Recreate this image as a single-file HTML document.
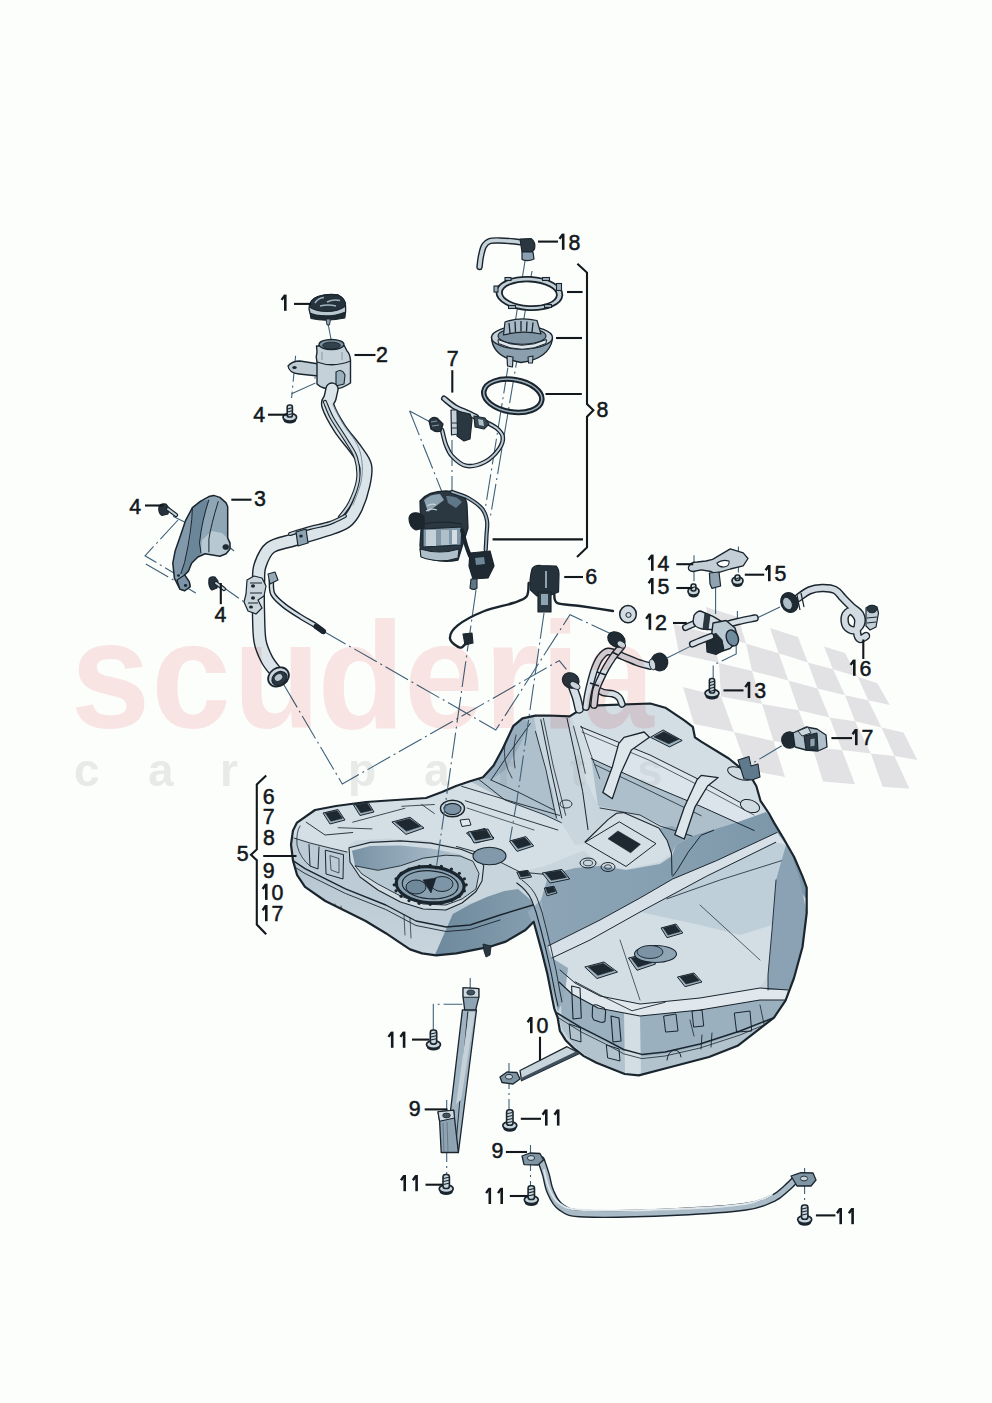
<!DOCTYPE html>
<html><head><meta charset="utf-8"><style>
html,body{margin:0;padding:0;background:#fcfefc;}
body{width:992px;height:1403px;overflow:hidden;}
svg{display:block;}
.lb{font-family:"Liberation Sans",sans-serif;font-size:23px;fill:#12181c;stroke:#12181c;stroke-width:0.55px;}
.ln{stroke:#12181c;stroke-width:2.1;fill:none;}
.dd{stroke:#3f6178;stroke-width:1.1;fill:none;stroke-dasharray:26 4 2 4;}
.ol{stroke:#16212a;stroke-width:1.3;stroke-linejoin:round;}
.th{stroke:#1b2730;stroke-width:0.8;fill:none;}
</style></head><body>
<svg width="992" height="1403" viewBox="0 0 992 1403">
<rect width="992" height="1403" fill="#fcfefc"/>
<g id="flag" fill="#e2e2e5">
<polygon points="706,607 738,617 746,643.5 711,634"/>
<polygon points="770,628 798,637 807.8,662.4 778.7,653.3"/>
<polygon points="824,646.6 845,653 857.7,676.7 833,669.3"/>
<polygon points="673.5,624 711,634 719,663 679,654"/>
<polygon points="746,643.5 778.7,653.3 788.4,680.5 752,671"/>
<polygon points="807.8,662.4 833,669.3 845,695.3 817.5,688.4"/>
<polygon points="857.7,676.7 877.3,683.2 889.8,704.9 868.2,700.3"/>
<polygon points="719,663 752,671 762,704 721,696.6"/>
<polygon points="788.4,680.5 817.5,688.4 829.5,717.4 798.7,710.2"/>
<polygon points="845,695.3 868.2,700.3 881.5,727.5 855,721.3"/>
<polygon points="683,687 721,696.6 734,732 694,724"/>
<polygon points="762,704 798.7,710.2 812.5,747.5 773.5,741"/>
<polygon points="829.5,717.4 855,721.3 870.8,753.4 842,750"/>
<polygon points="881.5,727.5 903.5,732.4 917.3,760 894.4,756"/>
<polygon points="734,732 773.5,741 785,777 747.7,770"/>
<polygon points="812.5,747.5 842,750 855,784.2 823,781.5"/>
<polygon points="870.8,753.4 894.4,756 909.4,788.8 882.6,786.8"/>
</g>
<g id="tank">
<defs><path id="sil" d="M297,822.6 L315,810 L336,806 L366,802 L396,800 L426,798 L442,792 L456,786 L470,781.3 L483,777.3 L493.6,765.5 L502.8,748.5 L513.2,726.2 L522.4,718.3 L535.5,715.7 L548.6,715.5 L569.6,716.4 L574.8,713.1 L591.2,705.6 L650.4,703.5 L665.3,707.7 L684.3,720.4 L692.8,726.8 L694.9,737.3 L701.2,741.6 L728.8,758.5 L739.3,767 L750,775.4 L756.3,786 L760.5,800.8 L769,813.5 L774,822.6 L782.7,837 L794,856.7 L802.5,876.4 L806.7,887.7 L806.7,913 L802.5,947 L794,978 L785.5,1000.6 L774,1017.6 L737.6,1045.8 L709,1057 L667,1068 L638.8,1075.4 L624.7,1074 L596.4,1062.7 L583.8,1056.1 L573.6,1048.1 L565.6,1040.2 L559.9,1031 L557.6,1017.4 L554.2,1008.3 L551.9,996.9 L547.4,974.1 L541.7,951.3 L537.1,934.2 L533.7,921.7 L525.5,930 L505.8,941.6 L489,947 L476.5,949.4 L456.4,953.4 L436.2,955.4 L422,953.4 L410,949.4 L398,941.3 L385.8,933.2 L365.6,921 L345.5,911 L325.3,901 L305,886.9 L297,874.8 L293,860.6 L291,844.5 L293,830.4 Z"/><clipPath id="cp"><use href="#sil"/></clipPath>
<linearGradient id="gl" x1="0" y1="0" x2="0" y2="1"><stop offset="0" stop-color="#b2c3ce"/><stop offset="1" stop-color="#cad6de"/></linearGradient>
<linearGradient id="gd" x1="0" y1="0" x2="1" y2="0"><stop offset="0" stop-color="#6d889c"/><stop offset="1" stop-color="#88a0b1"/></linearGradient>
<linearGradient id="gs" x1="0" y1="0" x2="1" y2="0"><stop offset="0" stop-color="#8ca4b5"/><stop offset="0.5" stop-color="#859fb1"/><stop offset="1" stop-color="#7b95a8"/></linearGradient>
<linearGradient id="gw" x1="0" y1="0" x2="1" y2="0"><stop offset="0" stop-color="#7892a5"/><stop offset="0.6" stop-color="#9db2c1"/><stop offset="1" stop-color="#bdcdd7"/></linearGradient>
</defs>
<use href="#sil" fill="#c8d5dd"/>
<g clip-path="url(#cp)">
<path d="M285,850 L305,868.7 L345.5,888.9 L385.8,905 L416,921 L446.3,927 L470,925 L500,915 L540,905 L545,960 L430,962 L285,900 Z" fill="url(#gl)"/>
<path d="M285,836 L294,838 L310,843 L330,848 L347,852 L352,866 L366,880 L386,893 L416,905 L446,909 L479,901 L500,897 L470,925 L446.3,927 L416,921 L385.8,905 L345.5,888.9 L305,868.7 L285,858 Z" fill="#bccbd5"/>
<path d="M285,836 L294,838 L310,843 L330,848 L347,852 L349.5,844.5 L355.6,840.5 L385.8,838.5 L426,840.5 L456.4,846.5 L478.5,852.6 L500,862 L520,872 L545,866 L585,850 L585,830 L545,815 L505,800 L477,778 L285,800 Z" fill="#d4dee5"/>
<path d="M349,847.7 L370.2,842.4 L400.5,840.9 L430.7,843.1 L461,849.2 L476,855.2 L483.7,865.8 L482,881 L476,891.5 L462,903 L445.8,910 L423.2,909 L400.5,902 L377.8,890 L360,877 L350,862 Z" fill="#cfdae1" stroke="#1a252e" stroke-width="1.1" stroke-linejoin="round"/>
<path d="M352,850.7 L370.2,846 L400.5,845.4 L430.7,848.4 L461,854.5 L473,861.3 L460,856 L445.8,855.2 L423.2,858.2 L400.5,865.8 L377.8,870.3 L355,865.8 Z" fill="url(#gw)"/>
<path d="M355,865.8 L377.8,870.3 L400.5,865.8 L423.2,858.2 L445.8,855.2 L460,856 L473,861.3 L479,873.4 L476,889 L462,899 L445.8,905 L423.2,904 L400.5,896 L377.8,884 L362,874 Z" fill="#b7c8d2" stroke="#1a252e" stroke-width="0.9" stroke-linejoin="round"/>
<path d="M452.8,914 L470,904.5 L487.3,896.8 L504.5,891 L518,889 L531.3,900.6 L537,916 L541,930 L548,965 L430,965 L437.5,949 Z" fill="url(#gd)"/>
<path d="M470,781.3 L483,777.3 L493.6,765.5 L502.8,748.5 L513.2,726.2 L522.4,718.3 L535.5,715.7 L540.8,719.7 L548,760 L556.5,818 L561.4,822.7 L545,815 L505,800 Z" fill="#aec0cc"/>
<path d="M502.8,748.5 L513.2,726.2 L522.4,718.3 L530.3,723.6 L520,745 L505,770 L491,780 L483,777.3 L493.6,765.5 Z" fill="#98aebe"/>
<path d="M534,716.8 L551,715.4 L570,711 L578,740 L586,780 L595,820 L598,842 L575,845 L561.4,822.7 L556,800 L545,770 L537,735 Z" fill="#c9d6de"/>
<path d="M570,711 L591.2,705.6 L650.4,703.5 L665.3,707.7 L684.3,720.4 L692.8,726.8 L694.9,737.3 L701.2,741.6 L728.8,758.5 L739.3,767 L750,775.4 L756.3,786 L760.5,800.8 L769,813.5 L770,812 L738,822 L692,836 L672,830 L640,815 L598,806 L586,780 L578,740 Z" fill="#d3dde4"/>
<path d="M591.2,758.5 L650,785 L700,806 L754.2,830.5 L770,812 L738,822 L692,836 L672,830 L640,815 L598,806 Z" fill="#adbfcb"/>
<path d="M580.6,726.8 L650,755 L700,780 L756.3,811.4 L760,815 L754.2,830.5 L700,806 L650,785 L591.2,758.5 Z" fill="#dbe4ea"/>
<path d="M541,900 L548.5,874.7 L575,868 L600,866 L626,870 L660,864 L672,856 L676,845 L692,836 L738,822 L766,812 L774,822.6 L782.7,837 L794,856.7 L802.5,876.4 L806.7,887.7 L810,905 L800,890 L790,850 L777,832.5 L758.8,841 L716.4,860.7 L672.7,879 L640,898 L600,920 L570,935 L548,946 Z" fill="url(#gs)"/>
<path d="M658.8,828 L672,826 L692,836 L676,845 L671.5,853.5 L667.3,840.8 Z" fill="#8ea6b6"/>
<path d="M585,842 L608,819.6 L616.5,813.3 L623.5,812.6 L658.8,828 L667.3,840.8 L671.5,853.5 L660,862 L626.3,869 L600,864 L585,852 Z" fill="#d4dee5"/>
<path d="M548,946 L570,935 L600,920 L640,898 L672.7,879 L716.4,860.7 L758.8,841 L777,832.5 L786,845 L775.7,842.3 L706.6,876.2 L640,912 L590,940 L560,955 L552,958 Z" fill="#d6e0e6"/>
<path d="M552,958 L590,940 L640,912 L706.6,876.2 L775.7,842.3 L786,845 L784,861 L776,880 L772,930 L768,975 L760,988 L700,998 L640,1004 L600,996 L575,983 L560,970 Z" fill="#d3dde4"/>
<path d="M640,912 L706.6,876.2 L775.7,842.3 L786,845 L784,861 L776,880 L772,925 L740,935 L700,925 Z" fill="#bfcfd9"/>
<path d="M786,845 L790,850 L800,880 L806.7,913 L802.5,947 L794,978 L788,990 L768,990 L768,975 L772,930 L776,880 Z" fill="#8aa2b3"/>
<path d="M560,970 L575,983 L600,996 L640,1004 L700,998 L760,988 L768,990 L788,990 L785,1000 L760,1000 L700,1010 L640,1016 L598,1008 L572,994 L559,982 Z" fill="#e0e8ed"/>
<path d="M559,982 L572,994 L598,1008 L640,1016 L700,1010 L760,1000 L785,1000 L774,1017.6 L737.6,1045.8 L709,1057 L667,1068 L638.8,1075.4 L624.7,1074 L596.4,1062.7 L574,1045.8 L562.6,1028.9 L559.8,989 Z" fill="#9ab0bf"/>
<path d="M557,1015 L581.3,1030 L605.5,1042 L623.6,1051.5 L641.8,1056.4 L665,1054 L700,1046 L740,1033 L774,1019 L737.6,1045.8 L709,1057 L667,1068 L638.8,1075.4 L624.7,1074 L596.4,1062.7 L574,1045.8 L562.6,1028.9 Z" fill="#b3c3ce"/>
<path d="M624,1012 L640,1016 L641,1075 L625,1073 Z" fill="#d3dde4"/>
<path d="M528,912 L541,900 L548,946 L552,958 L568,968 L566,985 L563,1000 L558,1012 L548,975 L540,945 Z" fill="#93aaba"/>
<path d="M293,860.6 L305,868.7 L345.5,888.9 L385.8,905 L416,921 L446.3,927 L470,925 L500,915 L533,905" fill="none" stroke="#1a252e" stroke-width="1.4" stroke-linejoin="round" stroke-linecap="round"/>
<path d="M293,866 L305,873.5 L345.5,893.5 L385.8,909.5 L416,925.5 L446.3,931.5 L470,929.5 L500,920" fill="none" stroke="#1a252e" stroke-width="0.9" stroke-linejoin="round" stroke-linecap="round"/>
<path d="M306.2,822.2 L325,835 L352.7,832.5" fill="none" stroke="#1a252e" stroke-width="0.9" stroke-linejoin="round" stroke-linecap="round"/>
<path d="M338.2,827.7 L372,828.9" fill="none" stroke="#1a252e" stroke-width="0.8" stroke-linejoin="round" stroke-linecap="round"/>
<path d="M352.7,822.2 L404.8,808.3" fill="none" stroke="#1a252e" stroke-width="0.8" stroke-linejoin="round" stroke-linecap="round"/>
<path d="M294,838 L310,843 L330,848 L347,852" fill="none" stroke="#1a252e" stroke-width="0.9" stroke-linejoin="round" stroke-linecap="round"/>
<path d="M300,826 Q296,832 297,845 Q300,858 310,866" fill="none" stroke="#1a252e" stroke-width="0.8" stroke-linejoin="round" stroke-linecap="round"/>
<path d="M530.3,723.6 L510,752 L491,780" fill="none" stroke="#1a252e" stroke-width="0.9" stroke-linejoin="round" stroke-linecap="round"/>
<path d="M535.5,731.5 L546,770 L553.9,807.5 L556.5,818" fill="none" stroke="#1a252e" stroke-width="0.9" stroke-linejoin="round" stroke-linecap="round"/>
<path d="M540.8,719.7 L550,765 L561.7,818" fill="none" stroke="#1a252e" stroke-width="1" stroke-linejoin="round" stroke-linecap="round"/>
<path d="M543.4,718.4 L553,765 L565.7,815.3" fill="none" stroke="#1a252e" stroke-width="0.8" stroke-linejoin="round" stroke-linecap="round"/>
<path d="M567,718.4 L575,755 L582.7,791.7 L588,829.7" fill="none" stroke="#1a252e" stroke-width="1" stroke-linejoin="round" stroke-linecap="round"/>
<path d="M573.5,726.2 L580,750 L585.3,773.4" fill="none" stroke="#1a252e" stroke-width="0.8" stroke-linejoin="round" stroke-linecap="round"/>
<path d="M581.4,726.2 L590,752 L599.7,778.6" fill="none" stroke="#1a252e" stroke-width="0.8" stroke-linejoin="round" stroke-linecap="round"/>
<path d="M491,780 L520,793 L553.9,810" fill="none" stroke="#1a252e" stroke-width="0.9" stroke-linejoin="round" stroke-linecap="round"/>
<path d="M461.6,786.3 L510,801 L559.6,815.4" fill="none" stroke="#1a252e" stroke-width="0.9" stroke-linejoin="round" stroke-linecap="round"/>
<path d="M465.3,800.8 L510,815 L557.8,830" fill="none" stroke="#1a252e" stroke-width="0.9" stroke-linejoin="round" stroke-linecap="round"/>
<path d="M467,808 L534,830" fill="none" stroke="#1a252e" stroke-width="0.7" stroke-linejoin="round" stroke-linecap="round"/>
<path d="M401.8,806.3 L434.4,804.5 M421.7,804.5 L434.4,813.5" fill="none" stroke="#1a252e" stroke-width="0.8" stroke-linejoin="round" stroke-linecap="round"/>
<path d="M508,732 Q503,745 505,760 Q508,772 512,778 M516,735 Q512,750 515,768" fill="none" stroke="#1a252e" stroke-width="0.8" stroke-linejoin="round" stroke-linecap="round"/>
<path d="M477,778 L505,800 L545,815 L561.4,822.7" fill="none" stroke="#1a252e" stroke-width="0.9" stroke-linejoin="round" stroke-linecap="round"/>
<path d="M456.4,846.5 L478.5,852.6 L500,862 L520,872 L548.5,874.7" fill="none" stroke="#1a252e" stroke-width="0.9" stroke-linejoin="round" stroke-linecap="round"/>
<path d="M580.6,726.8 L650,755 L700,780 L756.3,811.4" fill="none" stroke="#1a252e" stroke-width="1" stroke-linejoin="round" stroke-linecap="round"/>
<path d="M582,732 L650,760.5 L700,786 L754,815" fill="none" stroke="#1a252e" stroke-width="0.7" stroke-linejoin="round" stroke-linecap="round"/>
<path d="M591.2,758.5 L650,785 L700,806 L754.2,830.5" fill="none" stroke="#1a252e" stroke-width="1" stroke-linejoin="round" stroke-linecap="round"/>
<path d="M595.4,764.9 L640,786 L701.2,815.7" fill="none" stroke="#1a252e" stroke-width="0.8" stroke-linejoin="round" stroke-linecap="round"/>
<path d="M600,808 L640,815 L660,826 L692,836" fill="none" stroke="#1a252e" stroke-width="0.9" stroke-linejoin="round" stroke-linecap="round"/>
<path d="M516.8,883 Q527,890 531.6,900 L536,912 L541,930 L546,950 L551,972 L555.5,995 L558,1006" fill="none" stroke="#1a252e" stroke-width="1.1" stroke-linejoin="round" stroke-linecap="round"/>
<path d="M522,880 Q533,888 537,898 L542,912 L546,928 L551,948 L556,970 L560,992 L562,1002" fill="none" stroke="#1a252e" stroke-width="0.9" stroke-linejoin="round" stroke-linecap="round"/>
<path d="M585,842 L608,819.6 L616.5,813.3 L623.5,812.6 L658.8,828 L667.3,840.8 L671.5,853.5" fill="none" stroke="#1a252e" stroke-width="1.1" stroke-linejoin="round" stroke-linecap="round"/>
<path d="M671.5,853.5 L672,875" fill="none" stroke="#1a252e" stroke-width="1" stroke-linejoin="round" stroke-linecap="round"/>
<path d="M585.4,842.2 L619.3,821.8 L656,843.6 L626.3,866.2 Z" fill="none" stroke="#1a252e" stroke-width="1" stroke-linejoin="round" stroke-linecap="round"/>
<path d="M548,946 L570,935 L600,920 L640,898 L672.7,879 L716.4,860.7 L758.8,841 L777,832.5" fill="none" stroke="#1a252e" stroke-width="1" stroke-linejoin="round" stroke-linecap="round"/>
<path d="M552,958 L590,940 L640,912 L706.6,876.2 L775.7,842.3" fill="none" stroke="#1a252e" stroke-width="1" stroke-linejoin="round" stroke-linecap="round"/>
<path d="M667,898.8 L720,880 L781.4,860.7" fill="none" stroke="#1a252e" stroke-width="0.8" stroke-linejoin="round" stroke-linecap="round"/>
<path d="M713.6,830.3 L701,835.3 L688.2,852.2 L677,870.6 L672.7,876.2" fill="none" stroke="#1a252e" stroke-width="1" stroke-linejoin="round" stroke-linecap="round"/>
<path d="M560,970 L575,983 L600,996 L640,1004 L700,998 L760,988 L788,990" fill="none" stroke="#1a252e" stroke-width="1" stroke-linejoin="round" stroke-linecap="round"/>
<path d="M559,982 L572,994 L598,1008 L640,1016 L700,1010 L760,1000 L785,1000" fill="none" stroke="#1a252e" stroke-width="1.2" stroke-linejoin="round" stroke-linecap="round"/>
<path d="M776,880 L772,930 L768,975 L768,990" fill="none" stroke="#1a252e" stroke-width="0.9" stroke-linejoin="round" stroke-linecap="round"/>
<path d="M620,940 Q630,970 640,1000" fill="none" stroke="#1a252e" stroke-width="0.7" stroke-linejoin="round" stroke-linecap="round"/>
<path d="M700,905 L760,960" fill="none" stroke="#1a252e" stroke-width="0.7" stroke-linejoin="round" stroke-linecap="round"/>
<path d="M571.6,986 L580,988 L581.3,1018 L573,1019 Z" fill="none" stroke="#1a252e" stroke-width="1.1" stroke-linejoin="round" stroke-linecap="round"/>
<path d="M592.5,1007 Q593,1004 597,1005 L604,1008 Q606,1010 605.5,1013 L605,1021 Q604,1023 600,1022 L594,1020 Q592,1018 592.3,1015 Z" fill="none" stroke="#1a252e" stroke-width="1.1" stroke-linejoin="round" stroke-linecap="round"/>
<path d="M611,1016 L619,1018 L621,1041 L613,1042 Z" fill="none" stroke="#1a252e" stroke-width="1.1" stroke-linejoin="round" stroke-linecap="round"/>
<path d="M569.5,1024 L580.5,1028 L581,1042 L571,1039 Z" fill="none" stroke="#1a252e" stroke-width="1" stroke-linejoin="round" stroke-linecap="round"/>
<path d="M606.7,1045 L619,1049 L620,1061 L608,1058 Z" fill="none" stroke="#1a252e" stroke-width="1" stroke-linejoin="round" stroke-linecap="round"/>
<path d="M557,1013 L581.3,1027.7 L605.5,1039.8 L623.6,1049.5 L641.8,1054.4 L665,1052 L700,1044 L740,1031 L774,1017.6" fill="none" stroke="#1a252e" stroke-width="1.5" stroke-linejoin="round" stroke-linecap="round"/>
<path d="M558,1017.5 L581.3,1032 L605.5,1044 L623.6,1053.8 L641.8,1058.6 L665,1056 L700,1048 L740,1035 L771,1022" fill="none" stroke="#1a252e" stroke-width="0.8" stroke-linejoin="round" stroke-linecap="round"/>
<path d="M575.2,981.8 L600,995 L632,1010.8 L665,1002.3" fill="none" stroke="#1a252e" stroke-width="0.9" stroke-linejoin="round" stroke-linecap="round"/>
<path d="M664,1016 L676,1014 L678,1031 L666,1032 Z" fill="none" stroke="#1a252e" stroke-width="1" stroke-linejoin="round" stroke-linecap="round"/>
<path d="M692.4,1011 L702,1010 L703.7,1026 L694,1027 Z" fill="none" stroke="#1a252e" stroke-width="1" stroke-linejoin="round" stroke-linecap="round"/>
<path d="M734.7,1013 L750,1011 L751.7,1031 L737,1032 Z" fill="none" stroke="#1a252e" stroke-width="1" stroke-linejoin="round" stroke-linecap="round"/>
<path d="M701,1049 L702,1035 M711,1047 L712,1033" fill="none" stroke="#1a252e" stroke-width="0.9" stroke-linejoin="round" stroke-linecap="round"/>
<path d="M667,1060 Q668,1052 674,1050 Q680,1050 681,1057" fill="none" stroke="#1a252e" stroke-width="1" stroke-linejoin="round" stroke-linecap="round"/>
<path d="M690,1020 L694,1036 M760,1005 L764,1024" fill="none" stroke="#1a252e" stroke-width="0.8" stroke-linejoin="round" stroke-linecap="round"/>
<path d="M309,844.5 L310,866 L318,869 L319,847" fill="none" stroke="#1a252e" stroke-width="1" stroke-linejoin="round" stroke-linecap="round"/>
<path d="M325.3,850.6 L326,874 L343,879 L343.5,855 Z" fill="none" stroke="#1a252e" stroke-width="1" stroke-linejoin="round" stroke-linecap="round"/>
<path d="M330,856 L331,870 L339,873 L339,859 Z" fill="none" stroke="#1a252e" stroke-width="0.7" stroke-linejoin="round" stroke-linecap="round"/>
<path d="M335,904 L337,915 L343,918 L341,906" fill="none" stroke="#1a252e" stroke-width="0.7" stroke-linejoin="round" stroke-linecap="round"/>
<path d="M404,915 L405,935 M410,918 L411,938" fill="none" stroke="#1a252e" stroke-width="0.7" stroke-linejoin="round" stroke-linecap="round"/>
<polygon points="323,813 338,809.5 345,820 330,824" fill="#9fb2bf" stroke="#1a252e" stroke-width="1" stroke-linejoin="round"/>
<polygon points="325.42,813.215 337.12,810.695 342.58,818.255 330.88,821.135" fill="#1e2830" stroke="#1a252e" stroke-width="0.6" stroke-linejoin="round"/>
<polygon points="353.5,805 368,802 374,812 360,815.5" fill="#9fb2bf" stroke="#1a252e" stroke-width="1" stroke-linejoin="round"/>
<polygon points="355.783,805.215 367.092,803.055 371.772,810.255 360.853,812.775" fill="#1e2830" stroke="#1a252e" stroke-width="0.6" stroke-linejoin="round"/>
<polygon points="391.9,822 410,817.3 424,828 406,834.4" fill="#9fb2bf" stroke="#1a252e" stroke-width="1" stroke-linejoin="round"/>
<polygon points="395.436,822.159 409.555,818.775 420.475,826.479 406.435,831.087" fill="#1e2830" stroke="#1a252e" stroke-width="0.6" stroke-linejoin="round"/>
<polygon points="466.5,833 485,828.4 494,838 476,843" fill="#9fb2bf" stroke="#1a252e" stroke-width="1" stroke-linejoin="round"/>
<polygon points="469.553,832.928 483.983,829.616 491.002,836.528 476.962,840.128" fill="#1e2830" stroke="#1a252e" stroke-width="0.6" stroke-linejoin="round"/>
<polygon points="468,832 488,829 493.5,839 474,843" fill="#9fb2bf" stroke="#1a252e" stroke-width="1" stroke-linejoin="round"/>
<polygon points="470.832,832.25 486.433,830.09 490.723,837.29 475.512,840.17" fill="#1e2830" stroke="#1a252e" stroke-width="0.6" stroke-linejoin="round"/>
<polygon points="509.4,841 526,836.6 533.7,846 517,851.4" fill="#9fb2bf" stroke="#1a252e" stroke-width="1" stroke-linejoin="round"/>
<polygon points="512.067,840.97 525.015,837.802 531.022,844.57 517.995,848.458" fill="#1e2830" stroke="#1a252e" stroke-width="0.6" stroke-linejoin="round"/>
<polygon points="608,838.7 617.9,831 640.4,844.3 630.6,852.8" fill="#1e2830" stroke="#1a252e" stroke-width="0.6" stroke-linejoin="round"/>
<polygon points="542.2,873 562,869.4 569.7,879 550,883" fill="#9fb2bf" stroke="#1a252e" stroke-width="1" stroke-linejoin="round"/>
<polygon points="545.231,873.068 560.674,870.476 566.681,877.388 551.314,880.268" fill="#1e2830" stroke="#1a252e" stroke-width="0.6" stroke-linejoin="round"/>
<polygon points="516.8,872 528,870.4 531.6,877 520,879" fill="#9fb2bf" stroke="#1a252e" stroke-width="1" stroke-linejoin="round"/>
<polygon points="518.406,871.928 527.142,870.776 529.95,875.528 520.902,876.968" fill="#1e2830" stroke="#1a252e" stroke-width="0.6" stroke-linejoin="round"/>
<polygon points="544.3,888 554,886.3 557,893 547,895.8" fill="#9fb2bf" stroke="#1a252e" stroke-width="1" stroke-linejoin="round"/>
<polygon points="545.68,887.977 553.246,886.753 555.587,891.577 547.787,893.593" fill="#1e2830" stroke="#1a252e" stroke-width="0.6" stroke-linejoin="round"/>
<polygon points="650.4,737.3 663.1,730 682.2,740.5 669.5,746.9" fill="#9fb2bf" stroke="#1a252e" stroke-width="1" stroke-linejoin="round"/>
<polygon points="653.898,736.885 663.804,731.629 678.702,739.189 668.796,743.797" fill="#1e2830" stroke="#1a252e" stroke-width="0.6" stroke-linejoin="round"/>
<polygon points="584.8,967 604,962 617.5,972 597,978.5" fill="#9fb2bf" stroke="#1a252e" stroke-width="1" stroke-linejoin="round"/>
<polygon points="588.325,967.005 603.302,963.405 613.832,970.605 597.841,975.285" fill="#1e2830" stroke="#1a252e" stroke-width="0.6" stroke-linejoin="round"/>
<polygon points="628.4,958 646,954 655.6,964 637,970.3" fill="#9fb2bf" stroke="#1a252e" stroke-width="1" stroke-linejoin="round"/>
<polygon points="631.337,958.201 645.065,955.321 652.553,962.521 638.045,967.057" fill="#1e2830" stroke="#1a252e" stroke-width="0.6" stroke-linejoin="round"/>
<polygon points="677.4,977 694,973 702,982 685,986.7" fill="#9fb2bf" stroke="#1a252e" stroke-width="1" stroke-linejoin="round"/>
<polygon points="680.084,976.949 693.032,974.069 699.272,980.549 686.012,983.933" fill="#1e2830" stroke="#1a252e" stroke-width="0.6" stroke-linejoin="round"/>
<polygon points="661,928 676,924 682.8,933 667,937.7" fill="#9fb2bf" stroke="#1a252e" stroke-width="1" stroke-linejoin="round"/>
<polygon points="663.354,927.949 675.054,925.069 680.358,931.549 668.034,934.933" fill="#1e2830" stroke="#1a252e" stroke-width="0.6" stroke-linejoin="round"/>
<path d="M460,820 L469,819 L471,825 L462,826.5 Z" fill="#dfe7ec" stroke="#1a252e" stroke-width="1" stroke-linejoin="round"/>
<ellipse cx="452.5" cy="808.5" rx="12" ry="8.2" fill="#c9d5dd" stroke="#1a252e" stroke-width="1.4"/>
<ellipse cx="452.5" cy="809" rx="8.5" ry="5.6" fill="#7b93a4" stroke="#1a252e" stroke-width="1.1"/>
<ellipse cx="489.5" cy="856" rx="16.5" ry="8.8" fill="#8199aa" stroke="#1a252e" stroke-width="1.1"/>
<ellipse cx="655.5" cy="954" rx="21" ry="8.5" fill="#8ea5b5" stroke="#1a252e" stroke-width="1.1"/>
<ellipse cx="650" cy="952" rx="13" ry="6.5" fill="#7b93a4" stroke="#1a252e" stroke-width="0.9"/>
<ellipse cx="588" cy="863" rx="8" ry="5" fill="none" stroke="#1a252e" stroke-width="1"/>
<ellipse cx="588" cy="863" rx="4.5" ry="2.8" fill="none" stroke="#1a252e" stroke-width="0.8"/>
<ellipse cx="608" cy="867" rx="7" ry="4.5" fill="none" stroke="#1a252e" stroke-width="1"/>
<ellipse cx="608" cy="867" rx="3.5" ry="2.2" fill="none" stroke="#1a252e" stroke-width="0.8"/>
<ellipse cx="566" cy="804" rx="6" ry="4" fill="none" stroke="#1a252e" stroke-width="0.9"/>
<ellipse cx="430.2" cy="884.8" rx="34" ry="18" fill="#8aa1b2" stroke="#1a252e" stroke-width="3.2" transform="rotate(4 430.2 884.8)"/>
<ellipse cx="430.2" cy="884.8" rx="28" ry="14" fill="none" stroke="#1a252e" stroke-width="1.2" transform="rotate(4 430.2 884.8)"/>
<circle cx="466.2" cy="884.8" r="1.6" fill="#1a252e"/>
<circle cx="464.4" cy="890.8" r="1.6" fill="#1a252e"/>
<circle cx="459.3" cy="896.3" r="1.6" fill="#1a252e"/>
<circle cx="451.4" cy="900.6" r="1.6" fill="#1a252e"/>
<circle cx="441.3" cy="903.3" r="1.6" fill="#1a252e"/>
<circle cx="430.2" cy="904.3" r="1.6" fill="#1a252e"/>
<circle cx="419.1" cy="903.3" r="1.6" fill="#1a252e"/>
<circle cx="409.0" cy="900.6" r="1.6" fill="#1a252e"/>
<circle cx="401.1" cy="896.3" r="1.6" fill="#1a252e"/>
<circle cx="396.0" cy="890.8" r="1.6" fill="#1a252e"/>
<circle cx="394.2" cy="884.8" r="1.6" fill="#1a252e"/>
<circle cx="396.0" cy="878.8" r="1.6" fill="#1a252e"/>
<circle cx="401.1" cy="873.3" r="1.6" fill="#1a252e"/>
<circle cx="409.0" cy="869.0" r="1.6" fill="#1a252e"/>
<circle cx="419.1" cy="866.3" r="1.6" fill="#1a252e"/>
<circle cx="430.2" cy="865.3" r="1.6" fill="#1a252e"/>
<circle cx="441.3" cy="866.3" r="1.6" fill="#1a252e"/>
<circle cx="451.4" cy="869.0" r="1.6" fill="#1a252e"/>
<circle cx="459.3" cy="873.3" r="1.6" fill="#1a252e"/>
<circle cx="464.4" cy="878.8" r="1.6" fill="#1a252e"/>
<ellipse cx="416" cy="887" rx="10" ry="7" fill="#6f889a" stroke="#1a252e" stroke-width="1"/>
<ellipse cx="442" cy="884" rx="11" ry="7.5" fill="#7d95a6" stroke="#1a252e" stroke-width="1"/>
<path d="M423,880 L431,893 L436,878 Z" fill="#1a252e" stroke="#1a252e" stroke-width="0.6" stroke-linejoin="round"/>
<path d="M624,737.3 L644.1,732 L649.4,737.3 L631.4,750 L620.8,773.3 L612.3,798.7 L602.8,792.4 L612.3,767 L618.7,743.7 Z" fill="#dde6eb" stroke="#1a252e" stroke-width="1.3" stroke-linejoin="round"/>
<path d="M701.2,775.4 L718.2,777.6 L707.6,786 L694.9,807.2 L684.3,839 L674.8,834.7 L684.3,807.2 L697,779.7 Z" fill="#dde6eb" stroke="#1a252e" stroke-width="1.3" stroke-linejoin="round"/>
<ellipse cx="740" cy="773.5" rx="13" ry="5.5" fill="#d0dae1" stroke="#1a252e" stroke-width="1" transform="rotate(20 740 773.5)"/>
<ellipse cx="750" cy="806" rx="10" ry="6" fill="#d0dae1" stroke="#1a252e" stroke-width="1" transform="rotate(20 750 806)"/>
</g>
<use href="#sil" fill="none" stroke="#1a252e" stroke-width="2.2" stroke-linejoin="round"/>
<path d="M738,760 L749,756.5 L751,766 L758,764 L760,777 L752,780 L744,779 Z" fill="#5f7a8c" stroke="#1a252e" stroke-width="1.1" stroke-linejoin="round"/>
<path d="M483,944 L491,946 L490,955 L486,957 L484,951 Z" fill="#2a3640" stroke="#1a252e" stroke-width="0.9" stroke-linejoin="round"/>
</g>
<g id="dash" class="dd">
<polyline points="525,261 485.5,507"/>
<polyline points="532,271 490.5,516"/>
<polyline points="409.6,411 429.3,421.4"/>
<polyline points="409.6,411 442,492"/>
<polyline points="452,440 452,491"/>
<polyline points="476,590 446,800 436,870"/>
<polyline points="544,613 517,800 510,840"/>
<polyline points="323,631 495.8,730 570,614.7 615.8,636"/>
<polyline points="284,685 342.3,784 559.3,660.6 566.4,669.4"/>
<polyline points="667,658 691,646"/>
<polyline points="757,618 780,607"/>
<polyline points="715.6,588 715.6,622"/>
<polyline points="737.4,611 737.4,622"/>
<polyline points="736.2,644 736.2,654 713.2,665 713.2,678"/>
<polyline points="694,555.3 694,586"/>
<polyline points="738.4,546.5 738.4,577"/>
<polyline points="781.7,745.8 750,764.7"/>
<polyline points="433.3,1030 433.3,1004.3 462.4,1004.3"/>
<polyline points="509,1063 509,1109.7"/>
<polyline points="530.5,1145 530.5,1185"/>
<polyline points="446.7,1100 446.7,1174.5"/>
<polyline points="470.2,978 470.2,989.4"/>
<polyline points="804.6,1168 804.6,1203.4"/>
<polyline points="328,323.5 331,339"/>
<polyline points="295.6,355.8 291.6,398"/>
<polyline points="291.6,393.7 315,383.2 315,375"/>
<polyline points="173,516.3 184.5,522"/>
<polyline points="178,520 145,555.8 174.8,573.5"/>
<polyline points="145.8,563.9 195.8,593"/>
<polyline points="217.6,583.2 247.4,604.2"/>
<polyline points="227,545 234,551"/>
</g>
<g id="parts">
<path d="M479.5,267 C479.8,265.2 480.2,259.5 481,256 C481.8,252.5 482.5,248.5 484,246 C485.5,243.5 487.3,241.9 490,241 C492.7,240.1 495.8,240.4 500,240.5 C504.2,240.6 510.7,241.1 515,241.5 C519.3,241.9 524.2,242.8 526,243" fill="none" stroke="#1a252e" stroke-width="6.5" stroke-linecap="round" stroke-linejoin="round"/><path d="M479.5,267 C479.8,265.2 480.2,259.5 481,256 C481.8,252.5 482.5,248.5 484,246 C485.5,243.5 487.3,241.9 490,241 C492.7,240.1 495.8,240.4 500,240.5 C504.2,240.6 510.7,241.1 515,241.5 C519.3,241.9 524.2,242.8 526,243" fill="none" stroke="#c5d2da" stroke-width="3.7" stroke-linecap="round" stroke-linejoin="round"/>
<path d="M520,239 L531,238.5 Q536,242 534.5,249 L532,252 L522,252 Z" fill="#2a3640" stroke="#1a252e" stroke-width="1.2" stroke-linejoin="round"/>
<path d="M522,252 L533,252 L534,259 Q528,262 522,259.5 Z" fill="#8a9faf" stroke="#1a252e" stroke-width="1.2" stroke-linejoin="round"/>
<ellipse cx="529.4" cy="293.5" rx="33" ry="16.6" fill="#c3cfd7" stroke="#1a252e" stroke-width="1.8" transform="rotate(3 529.4 293.5)"/>
<ellipse cx="529.4" cy="293.8" rx="27.5" ry="12.3" fill="#fcfefc" stroke="#1a252e" stroke-width="1.8" transform="rotate(3 529.4 293.8)"/>
<rect x="494" y="286" width="4" height="6" fill="#9fb1bd" stroke="#1a252e" stroke-width="1.1"/>
<rect x="556.5" y="283.5" width="5" height="7" fill="#9fb1bd" stroke="#1a252e" stroke-width="1.1"/>
<rect x="505" y="277.5" width="6" height="3" fill="#9fb1bd" stroke="#1a252e" stroke-width="1.1"/>
<rect x="542.5" y="277.5" width="7" height="3" fill="#9fb1bd" stroke="#1a252e" stroke-width="1.1"/>
<rect x="508.5" y="305.5" width="7" height="3" fill="#9fb1bd" stroke="#1a252e" stroke-width="1.1"/>
<rect x="544.5" y="304.5" width="7" height="3" fill="#9fb1bd" stroke="#1a252e" stroke-width="1.1"/>
<path d="M491.5,337 Q492,357 521,362.5 Q549,359 552.5,339 Z" fill="#8aa0af" stroke="#1a252e" stroke-width="1.4" stroke-linejoin="round"/>
<ellipse cx="522" cy="337.5" rx="30.5" ry="11.5" fill="#c5d1d9" stroke="#1a252e" stroke-width="1.4"/>
<ellipse cx="522" cy="336" rx="24" ry="8.2" fill="#7f95a4" stroke="#1a252e" stroke-width="1.1"/>
<path d="M503.5,335 L505,322 Q520,316.5 537,320.5 L541,334 Q522,330 503.5,335 Z" fill="#a7bac6" stroke="#1a252e" stroke-width="1.2" stroke-linejoin="round"/>
<path d="M509,323 L510,333 M515,321.5 L515.5,332 M521,321 L521,331.5 M527,321.5 L526.5,331.5 M533,322.5 L532,332" fill="none" stroke="#1a252e" stroke-width="1.3" stroke-linejoin="round"/>
<path d="M498,339.5 Q522,351 546.5,339.5 L546,343.5 Q522,355 498.5,343.5 Z" fill="#dfe7ec" stroke="#1a252e" stroke-width="1" stroke-linejoin="round"/>
<path d="M507,356 L513,357 L512.5,367 L507.5,366 Z" fill="#b4c3cd" stroke="#1a252e" stroke-width="1.2" stroke-linejoin="round"/>
<path d="M528,357 L533,356 L532.5,363 L528.5,363 Z" fill="#b4c3cd" stroke="#1a252e" stroke-width="1.1" stroke-linejoin="round"/>
<ellipse cx="512.8" cy="395.8" rx="29.3" ry="16.2" fill="none" stroke="#1a252e" stroke-width="5.5" transform="rotate(9 512.8 395.8)"/>
<ellipse cx="512.8" cy="395.8" rx="29.3" ry="16.2" fill="none" stroke="#9fb1bd" stroke-width="1.5" transform="rotate(9 512.8 395.8)"/>
<path d="M442,430 C442.7,432.5 444.3,440.7 446,445 C447.7,449.3 448.7,452.5 452,456 C455.3,459.5 460.6,464.8 466,465.8 C471.4,466.8 479.2,464.8 484.7,462 C490.2,459.2 496.0,453.2 499,449 C502.0,444.8 503.2,440.2 502.8,436.8 C502.4,433.4 499.6,430.8 496.8,428.3 C494.0,425.8 487.8,423.1 486,422" fill="none" stroke="#1a252e" stroke-width="4.6" stroke-linecap="round" stroke-linejoin="round"/>
<path d="M442,430 C442.7,432.5 444.3,440.7 446,445 C447.7,449.3 448.7,452.5 452,456 C455.3,459.5 460.6,464.8 466,465.8 C471.4,466.8 479.2,464.8 484.7,462 C490.2,459.2 496.0,453.2 499,449 C502.0,444.8 503.2,440.2 502.8,436.8 C502.4,433.4 499.6,430.8 496.8,428.3 C494.0,425.8 487.8,423.1 486,422" fill="none" stroke="#c2cfd8" stroke-width="2" stroke-linecap="round" stroke-linejoin="round"/>
<path d="M444,398.5 C445.8,399.9 451.0,404.6 455,407 C459.0,409.4 464.5,411.3 468,413 C471.5,414.7 474.7,416.3 476,417" fill="none" stroke="#1a252e" stroke-width="6" stroke-linecap="round" stroke-linejoin="round"/><path d="M444,398.5 C445.8,399.9 451.0,404.6 455,407 C459.0,409.4 464.5,411.3 468,413 C471.5,414.7 474.7,416.3 476,417" fill="none" stroke="#c9d5dc" stroke-width="3.2" stroke-linecap="round" stroke-linejoin="round"/>
<path d="M457,411 L470,414 L472,420 L470,439 L464,441 L457,436 Z" fill="#2a3640" stroke="#1a252e" stroke-width="1.2" stroke-linejoin="round"/>
<path d="M451,410 L457,410 L457.5,434 L451.5,435 Z" fill="#c4d1d9" stroke="#1a252e" stroke-width="1.2" stroke-linejoin="round"/>
<path d="M452,423 L457,423 M452,428 L457,428" fill="none" stroke="#1a252e" stroke-width="0.9" stroke-linejoin="round"/>
<path d="M429,421 Q432,416 437,418 L443,424 L441,431 Q436,433 431,429 Z" fill="#2a3640" stroke="#1a252e" stroke-width="1.2" stroke-linejoin="round"/>
<path d="M431,422 L437,421 M432,426 L439,425" fill="none" stroke="#9fb2bf" stroke-width="0.8" stroke-linejoin="round"/>
<path d="M474,416 L485,418 L489,424 L484,429 L475,427 Z" fill="#3a4852" stroke="#1a252e" stroke-width="1.1" stroke-linejoin="round"/>
<path d="M478,419 L483,420 L484,426 L479,425 Z" fill="#aebfca" stroke="#1a252e" stroke-width="0" stroke-linejoin="round"/>
<path d="M420,501 Q428,491 446,491 Q466,492 467,505 L468,528 L462,547 L458,560 Q440,564 421,556 L420,545 L421,530 Z" fill="#2b3842" stroke="#1a252e" stroke-width="1.3" stroke-linejoin="round"/>
<path d="M424,500 Q430,494 440,494 L444,500 L436,506 L428,512 Z" fill="#8ea3b1" stroke="#1a252e" stroke-width="0" stroke-linejoin="round"/>
<path d="M427,506 Q432,503 436,505 M426,511 Q431,508 437,510" fill="none" stroke="#c7d3db" stroke-width="1.2" stroke-linejoin="round"/>
<path d="M446,496 Q456,495 462,502 L456,508 L448,503 Z" fill="#5f7787" stroke="#1a252e" stroke-width="0" stroke-linejoin="round"/>
<path d="M409,518 Q410,512 418,513 L424,516 L424,528 L416,530 Q409,527 409,518 Z" fill="#1c262e" stroke="#1a252e" stroke-width="1.2" stroke-linejoin="round"/>
<path d="M423,529 L462,527 L461,545 L423,547 Z" fill="#8198a8" stroke="#1a252e" stroke-width="1.1" stroke-linejoin="round"/>
<path d="M426,530 L436,530 L436,546 L426,546 Z" fill="#c4d1d9" stroke="#1a252e" stroke-width="0" stroke-linejoin="round"/>
<path d="M441,530 L449,530 L449,545 L441,545 Z" fill="#aebfca" stroke="#1a252e" stroke-width="0" stroke-linejoin="round"/>
<path d="M452,530 L457,530 L457,544 L452,544 Z" fill="#d3dde3" stroke="#1a252e" stroke-width="0" stroke-linejoin="round"/>
<path d="M420,549 Q440,555 459,549 L458,558 Q440,564 421,557 Z" fill="#aebfca" stroke="#1a252e" stroke-width="1.1" stroke-linejoin="round"/>
<path d="M424,524 Q440,520 462,524" fill="none" stroke="#1a252e" stroke-width="1.2" stroke-linejoin="round"/>
<path d="M452,492 C454.7,493.0 463.0,495.2 468,498 C473.0,500.8 478.8,504.9 482,508.7 C485.2,512.5 486.2,516.4 487,520.8 C487.8,525.2 486.7,530.1 486.5,535 C486.3,539.9 485.8,547.5 485.7,550" fill="none" stroke="#1a252e" stroke-width="4.2" stroke-linecap="round" stroke-linejoin="round"/>
<path d="M452,492 C454.7,493.0 463.0,495.2 468,498 C473.0,500.8 478.8,504.9 482,508.7 C485.2,512.5 486.2,516.4 487,520.8 C487.8,525.2 486.7,530.1 486.5,535 C486.3,539.9 485.8,547.5 485.7,550" fill="none" stroke="#9fb2bf" stroke-width="1.8" stroke-linecap="round" stroke-linejoin="round"/>
<path d="M462,530 C462.7,532.5 464.7,540.7 466,545 C467.3,549.3 469.3,554.2 470,556" fill="none" stroke="#1a252e" stroke-width="4" stroke-linecap="round" stroke-linejoin="round"/>
<path d="M470,553 L490,551 L494,566 L488,578 L473,579 L469,566 Z" fill="#1e2931" stroke="#1a252e" stroke-width="1.2" stroke-linejoin="round"/>
<path d="M475,558 L484,557 L485,564 L476,565 Z" fill="#6f8798" stroke="#1a252e" stroke-width="0" stroke-linejoin="round"/>
<path d="M471,579 L477,579 L477,588 Q474,591 470,588 Z" fill="#5e7686" stroke="#1a252e" stroke-width="1.1" stroke-linejoin="round"/>
<path d="M310,313 L311,318.5 Q327,322 344.8,318 L345.6,312 Z" fill="#1f2a32" stroke="#1a252e" stroke-width="1.2" stroke-linejoin="round"/>
<path d="M309,309 Q309,300 318,296.5 Q328,293.5 338,295 Q346,299 345.6,307 L345.6,312 Q336,316 326,316 Q314,315.5 310,313 Z" fill="#b9c7d0" stroke="#1a252e" stroke-width="1.3" stroke-linejoin="round"/>
<path d="M309.5,307 Q310,299 318,296.5 Q328,293.5 338,295 Q346,299 345.5,306 Q338,311.5 327,311.5 Q315,311 309.5,307 Z" fill="#27333c" stroke="#1a252e" stroke-width="1.2" stroke-linejoin="round"/>
<path d="M315,303 Q318,298 324,297.5 M327,302 Q333,299 340,300.5 M320,306 Q328,304 336,306" fill="none" stroke="#9fb2bf" stroke-width="1.6" stroke-linejoin="round"/>
<path d="M326,319 L330.5,319 L329.5,325 L327,325 Z" fill="#8fa3b1" stroke="#1a252e" stroke-width="0.9" stroke-linejoin="round"/>
<path d="M300,361 Q292,361 288,366 Q289,373 299,374 L318,376 L319,364 Z" fill="#bfcbd3" stroke="#1a252e" stroke-width="1.3" stroke-linejoin="round"/>
<ellipse cx="294.5" cy="367.5" rx="2.2" ry="1.5" fill="#1a252e" stroke="#1a252e" stroke-width="0"/>
<path d="M316.5,346 L318.5,346 Q331,340 344.5,346 L347,351 Q350,354 350.5,360 L350.5,383 Q340,390 332,389 Q322,389 317,384 L317,362 Q315.5,357 317,352 Z" fill="#c5d1d9" stroke="#1a252e" stroke-width="1.4" stroke-linejoin="round"/>
<path d="M317,362 Q333,368 350.5,361" fill="none" stroke="#1a252e" stroke-width="1.3" stroke-linejoin="round"/>
<ellipse cx="331.5" cy="344.5" rx="12.5" ry="5" fill="#7d93a2" stroke="#1a252e" stroke-width="1.3"/>
<ellipse cx="331.5" cy="345.5" rx="9" ry="3.4" fill="#33414b" stroke="#1a252e" stroke-width="0.8"/>
<path d="M322,352 L322,360 M342,352 L342,360" fill="none" stroke="#6e8393" stroke-width="0.7" stroke-linejoin="round"/>
<path d="M336,372 Q342,368 345,375 L344,384 L336,386 Z" fill="#9aaebb" stroke="#1a252e" stroke-width="1.1" stroke-linejoin="round"/>
<path d="M332,389 C331.7,390.5 330.7,395.2 330,398 C329.3,400.8 326.4,400.9 328,406 C329.6,411.1 335.1,421.2 339.7,428.4 C344.3,435.6 351.5,443.2 355.8,449.4 C360.1,455.6 364.1,459.6 365.5,465.5 C366.9,471.4 365.5,477.6 363.9,484.8 C362.3,492.1 358.8,502.8 355.8,509 C352.8,515.2 350.8,518.5 346,522 C341.2,525.5 335.4,527.0 326.8,530 C318.2,533.0 303.9,536.8 294.5,539.7 C285.1,542.7 276.1,543.4 270.3,547.7 C264.6,552.0 262.0,559.6 260,565.6 C258.0,571.6 258.8,576.2 258.5,584 C258.2,591.8 258.2,603.1 258.5,612.6 C258.8,622.1 258.6,633.1 260,641 C261.4,648.9 264.3,654.5 267,659.7 C269.7,664.9 274.5,670.0 276,672" fill="none" stroke="#1a252e" stroke-width="13.5" stroke-linecap="round" stroke-linejoin="round"/><path d="M332,389 C331.7,390.5 330.7,395.2 330,398 C329.3,400.8 326.4,400.9 328,406 C329.6,411.1 335.1,421.2 339.7,428.4 C344.3,435.6 351.5,443.2 355.8,449.4 C360.1,455.6 364.1,459.6 365.5,465.5 C366.9,471.4 365.5,477.6 363.9,484.8 C362.3,492.1 358.8,502.8 355.8,509 C352.8,515.2 350.8,518.5 346,522 C341.2,525.5 335.4,527.0 326.8,530 C318.2,533.0 303.9,536.8 294.5,539.7 C285.1,542.7 276.1,543.4 270.3,547.7 C264.6,552.0 262.0,559.6 260,565.6 C258.0,571.6 258.8,576.2 258.5,584 C258.2,591.8 258.2,603.1 258.5,612.6 C258.8,622.1 258.6,633.1 260,641 C261.4,648.9 264.3,654.5 267,659.7 C269.7,664.9 274.5,670.0 276,672" fill="none" stroke="#dbe4e9" stroke-width="10.7" stroke-linecap="round" stroke-linejoin="round"/>
<path d="M333,405 C334.7,408.2 339.0,417.5 343,424 C347.0,430.5 353.8,437.7 357,444 C360.2,450.3 361.3,455.7 362,462 C362.7,468.3 362.5,474.8 361,482 C359.5,489.2 354.3,501.2 353,505" fill="none" stroke="#7b909f" stroke-width="1" stroke-linecap="round" stroke-linejoin="round"/>
<path d="M325,402 C326.2,404.7 328.5,411.7 332,418 C335.5,424.3 342.0,433.3 346,440 C350.0,446.7 354.0,451.3 356,458 C358.0,464.7 359.0,472.5 358,480 C357.0,487.5 353.0,496.8 350,503 C347.0,509.2 341.7,514.7 340,517" fill="none" stroke="#1a252e" stroke-width="4.2" stroke-linecap="round" stroke-linejoin="round"/><path d="M325,402 C326.2,404.7 328.5,411.7 332,418 C335.5,424.3 342.0,433.3 346,440 C350.0,446.7 354.0,451.3 356,458 C358.0,464.7 359.0,472.5 358,480 C357.0,487.5 353.0,496.8 350,503 C347.0,509.2 341.7,514.7 340,517" fill="none" stroke="#c9d5dc" stroke-width="2" stroke-linecap="round" stroke-linejoin="round"/>
<path d="M290,534 C293.3,533.0 303.3,529.8 310,528 C316.7,526.2 324.2,525.0 330,523 C335.8,521.0 342.5,517.2 345,516" fill="none" stroke="#1a252e" stroke-width="4" stroke-linecap="round" stroke-linejoin="round"/><path d="M290,534 C293.3,533.0 303.3,529.8 310,528 C316.7,526.2 324.2,525.0 330,523 C335.8,521.0 342.5,517.2 345,516" fill="none" stroke="#c9d5dc" stroke-width="1.8" stroke-linecap="round" stroke-linejoin="round"/>
<ellipse cx="278.5" cy="677" rx="11" ry="9" fill="#c9d4db" stroke="#1a252e" stroke-width="1.8" transform="rotate(-35 278.5 677)"/>
<ellipse cx="279.5" cy="678.5" rx="8" ry="6.5" fill="#2a3640" stroke="#1a252e" stroke-width="1.2" transform="rotate(-35 279.5 678.5)"/>
<ellipse cx="278.5" cy="677.5" rx="4" ry="3" fill="#b7c5ce" stroke="#1a252e" stroke-width="0" transform="rotate(-35 278.5 677.5)"/>
<path d="M271.3,580 C271.6,582.3 270.7,589.8 272.8,594 C274.9,598.2 279.3,601.7 284,605.5 C288.7,609.3 295.8,613.7 301,617 C306.2,620.3 311.9,623.2 315.5,625.5 C319.1,627.8 321.4,630.1 322.6,631" fill="none" stroke="#1a252e" stroke-width="5.5" stroke-linecap="round" stroke-linejoin="round"/><path d="M271.3,580 C271.6,582.3 270.7,589.8 272.8,594 C274.9,598.2 279.3,601.7 284,605.5 C288.7,609.3 295.8,613.7 301,617 C306.2,620.3 311.9,623.2 315.5,625.5 C319.1,627.8 321.4,630.1 322.6,631" fill="none" stroke="#d5dfe5" stroke-width="2.7" stroke-linecap="round" stroke-linejoin="round"/>
<path d="M316,626.5 L323.5,631.5" fill="none" stroke="#1a252e" stroke-width="5.2" stroke-linecap="round" stroke-linejoin="round"/>
<path d="M296,532 L306,529 L308,543 L298,546 Z" fill="#8fa4b2" stroke="#1a252e" stroke-width="1.2" stroke-linejoin="round"/>
<ellipse cx="301" cy="536" rx="1.8" ry="1.5" fill="#1a252e" stroke="#1a252e" stroke-width="0"/>
<path d="M247,580 L254,576 L262,578 L266,586 L264,596 L258,600 L262,608 L256,614 L248,611 L244,602 L246,594 Z" fill="#c8d3da" stroke="#1a252e" stroke-width="1.2" stroke-linejoin="round"/>
<path d="M250,583 L262,583 M250,593 L262,593 M248,603 L258,603" fill="none" stroke="#1a252e" stroke-width="1.1" stroke-linejoin="round"/>
<ellipse cx="253" cy="586" rx="2" ry="1.8" fill="#1a252e" stroke="#1a252e" stroke-width="0"/>
<ellipse cx="253" cy="598" rx="2" ry="1.8" fill="#1a252e" stroke="#1a252e" stroke-width="0"/>
<ellipse cx="251" cy="607" rx="2" ry="1.6" fill="#1a252e" stroke="#1a252e" stroke-width="0"/>
<path d="M268,574 L275,572 L278,580 L270,584 Z" fill="#95a9b6" stroke="#1a252e" stroke-width="1.1" stroke-linejoin="round"/>
<path d="M192.4,507.6 L200.3,501.3 L208.9,496.6 L213.6,495.4 L219.9,497.4 L226.1,502.9 L227.7,506.8 L227.7,538.2 L230,542.9 L230,549.1 L226.1,553.8 L219.9,556.2 L205,553.8 L197.9,557 L191.6,563.2 L188.5,571.1 L184.6,575 L189.3,582 L190.1,586.7 L184.6,590.7 L179.9,589.1 L174.4,578.1 L172.8,563.2 L175.2,550.7 L180.7,535 L185.4,520.9 Z" fill="#8ea6b6" stroke="#1a252e" stroke-width="0" stroke-linejoin="round"/>
<path d="M192.4,507.6 L190.9,535 L184.6,562.4 L180.7,574.2 L174.4,578.1 L172.8,563.2 L175.2,550.7 L180.7,535 L185.4,520.9 Z" fill="#8199ab" stroke="#1a252e" stroke-width="0" stroke-linejoin="round"/>
<path d="M192.4,507.6 L200.3,501.3 L208.9,499.8 L201.8,527.2 L199.5,542.9 L201,553 L197.9,557 L191.6,563.2 L188.5,571.1 L184.6,575 L180.7,574.2 L184.6,562.4 L190.9,535 Z" fill="#6b8699" stroke="#1a252e" stroke-width="0" stroke-linejoin="round"/>
<path d="M202,540 L212,531 L222,533 L227.7,538.2 L230,549.1 L226.1,553.8 L219.9,556.2 L205,553.8 L201,553 Z" fill="#b8c8d2" stroke="#1a252e" stroke-width="0" stroke-linejoin="round"/>
<path d="M192.4,507.6 L200.3,501.3 L208.9,496.6 L213.6,495.4 L219.9,497.4 L226.1,502.9 L227.7,506.8 L227.7,538.2 L230,542.9 L230,549.1 L226.1,553.8 L219.9,556.2 L205,553.8 L197.9,557 L191.6,563.2 L188.5,571.1 L184.6,575 L189.3,582 L190.1,586.7 L184.6,590.7 L179.9,589.1 L174.4,578.1 L172.8,563.2 L175.2,550.7 L180.7,535 L185.4,520.9 Z" fill="none" stroke="#1a252e" stroke-width="1.5" stroke-linejoin="round"/>
<path d="M192.4,507.6 Q192,530 184.6,562.4 L180.7,574.2 M208.9,499.8 Q202,520 199.5,542.9 L201,553 M218.3,501.3 Q211,525 208.9,538.9 L208.9,552.3" fill="none" stroke="#1a252e" stroke-width="1" stroke-linejoin="round"/>
<path d="M184.6,575 L189.3,582 L190.1,586.7 L184.6,590.7 L179.9,589.1 L177,580 Z" fill="#7c94a5" stroke="#1a252e" stroke-width="1.3" stroke-linejoin="round"/>
<ellipse cx="185.5" cy="585.5" rx="1.6" ry="1.4" fill="#1a252e" stroke="#1a252e" stroke-width="0"/>
<ellipse cx="178.5" cy="575.5" rx="1.5" ry="1.3" fill="#1a252e" stroke="#1a252e" stroke-width="0"/>
<ellipse cx="225.8" cy="547" rx="3" ry="2.6" fill="#1f2a32" stroke="#1a252e" stroke-width="0.6"/>
<ellipse cx="289.8" cy="419.9" rx="6.4" ry="3.6" fill="#1a252e" stroke="#1a252e" stroke-width="0"/><ellipse cx="289.8" cy="417.3" rx="6.8" ry="3.9" fill="#c9d5dc" stroke="#1a252e" stroke-width="1.7"/><rect x="287.2" y="405" width="5.2" height="12" rx="2.08" fill="#c9d5dc" stroke="#1a252e" stroke-width="1.6"/><path d="M287.7,409 l4.2,-1.2 M287.7,412 l4.2,-1.2 M287.7,415 l4.2,-1.2" stroke="#1a252e" stroke-width="1.1"/>
<path d="M159,507 Q160,503 166,504 L169,508 L168,514 L162,515.5 Q158,513 159,507 Z" fill="#27333c" stroke="#1a252e" stroke-width="1.2" stroke-linejoin="round"/>
<path d="M168,509 L176,515" stroke="#1a252e" stroke-width="4.2" stroke-linecap="round"/><path d="M168,509 L176,515" stroke="#c7d3da" stroke-width="2" stroke-linecap="round"/>
<path d="M209,579 Q210,576 215,577 L218,581 L217,588 L212,590 Q208,587 209,579 Z" fill="#27333c" stroke="#1a252e" stroke-width="1.2" stroke-linejoin="round"/>
<path d="M216,583 L224,589" stroke="#1a252e" stroke-width="4.2" stroke-linecap="round"/><path d="M216,583 L224,589" stroke="#c7d3da" stroke-width="2" stroke-linecap="round"/>
<path d="M528.7,583 C528.3,585.3 529.1,593.3 526.5,596.6 C523.9,599.9 520.0,600.6 513,603 C506.0,605.4 493.6,607.3 484.4,611 C475.2,614.7 463.4,620.8 457.7,625.4 C452.0,630.0 449.6,635.0 450,638.7 C450.4,642.4 457.3,646.9 460,647.6 C462.7,648.3 465.0,643.8 466,643" fill="none" stroke="#1a252e" stroke-width="2.4" stroke-linecap="round" stroke-linejoin="round"/>
<path d="M463,634 L472,633 L473,643 L465,645 Z" fill="#1f2a32" stroke="#1a252e" stroke-width="1.1" stroke-linejoin="round"/>
<path d="M554.2,594.4 C554.8,595.9 553.2,601.3 557.5,603.2 C561.8,605.1 570.8,604.7 580,606 C589.2,607.3 607.5,610.2 613,611" fill="none" stroke="#1a252e" stroke-width="2.4" stroke-linecap="round" stroke-linejoin="round"/>
<ellipse cx="628" cy="614.2" rx="8.3" ry="8.6" fill="#d3dce2" stroke="#1a252e" stroke-width="1.5"/>
<ellipse cx="628.5" cy="615" rx="2.6" ry="2.4" fill="none" stroke="#1a252e" stroke-width="1"/>
<path d="M532,569 Q534,565 541,565.5 L556,566 Q559,569 559,574 L558.5,592 L551,595 L537,596 L530.5,590 Q529,580 532,569 Z" fill="#26323b" stroke="#1a252e" stroke-width="1.2" stroke-linejoin="round"/>
<path d="M538,592 L551,592 L551,612 L538,612 Z" fill="#2a3640" stroke="#1a252e" stroke-width="1.2" stroke-linejoin="round"/>
<path d="M541,594 L548,594 L548,605 L541,605 Z" fill="#8ea3b1" stroke="#1a252e" stroke-width="0" stroke-linejoin="round"/>
<path d="M545,571 L547,571 L547,588 L545,588 Z" fill="#8ea3b1" stroke="#1a252e" stroke-width="0" stroke-linejoin="round"/>
<path d="M579.2,709 C578.8,707.3 577.8,702.1 576.8,698.6 C575.8,695.1 573.6,689.5 573,687.7" fill="none" stroke="#1a252e" stroke-width="9.5" stroke-linecap="round" stroke-linejoin="round"/><path d="M579.2,709 C578.8,707.3 577.8,702.1 576.8,698.6 C575.8,695.1 573.6,689.5 573,687.7" fill="none" stroke="#d5dfe5" stroke-width="6.7" stroke-linecap="round" stroke-linejoin="round"/>
<path d="M622,704 C621.5,702.9 620.5,699.1 619,697.4 C617.5,695.7 615.6,694.6 613,693.8 C610.4,693.0 606.4,693.6 603.4,692.6 C600.4,691.6 596.4,688.8 595,688" fill="none" stroke="#1a252e" stroke-width="7.5" stroke-linecap="round" stroke-linejoin="round"/><path d="M622,704 C621.5,702.9 620.5,699.1 619,697.4 C617.5,695.7 615.6,694.6 613,693.8 C610.4,693.0 606.4,693.6 603.4,692.6 C600.4,691.6 596.4,688.8 595,688" fill="none" stroke="#d5dfe5" stroke-width="4.7" stroke-linecap="round" stroke-linejoin="round"/>
<path d="M586,707 C586.3,704.8 587.1,698.5 588,694 C588.9,689.5 590.1,684.3 591.3,680 C592.5,675.7 593.5,671.7 595,668 C596.5,664.3 597.8,660.8 600,658 C602.2,655.2 604.4,651.8 608.2,651.5 C612.0,651.2 617.9,654.5 622.7,656.3 C627.6,658.1 632.8,660.7 637.3,662.3 C641.8,663.9 647.9,665.4 650,666" fill="none" stroke="#1a252e" stroke-width="7.8" stroke-linecap="round" stroke-linejoin="round"/><path d="M586,707 C586.3,704.8 587.1,698.5 588,694 C588.9,689.5 590.1,684.3 591.3,680 C592.5,675.7 593.5,671.7 595,668 C596.5,664.3 597.8,660.8 600,658 C602.2,655.2 604.4,651.8 608.2,651.5 C612.0,651.2 617.9,654.5 622.7,656.3 C627.6,658.1 632.8,660.7 637.3,662.3 C641.8,663.9 647.9,665.4 650,666" fill="none" stroke="#d5dfe5" stroke-width="5" stroke-linecap="round" stroke-linejoin="round"/>
<path d="M594,705 C594.3,702.5 594.9,694.3 596,690 C597.1,685.7 598.8,682.7 600.5,679 C602.2,675.3 603.9,671.7 606,668 C608.1,664.3 610.4,660.6 613,657 C615.6,653.4 620.1,648.3 621.5,646.6" fill="none" stroke="#1a252e" stroke-width="7.8" stroke-linecap="round" stroke-linejoin="round"/><path d="M594,705 C594.3,702.5 594.9,694.3 596,690 C597.1,685.7 598.8,682.7 600.5,679 C602.2,675.3 603.9,671.7 606,668 C608.1,664.3 610.4,660.6 613,657 C615.6,653.4 620.1,648.3 621.5,646.6" fill="none" stroke="#d5dfe5" stroke-width="5" stroke-linecap="round" stroke-linejoin="round"/>
<path d="M612,652 L618,655 M590,683 L599,686 M597,672 L606,675" fill="none" stroke="#1a252e" stroke-width="1.6" stroke-linejoin="round"/>
<ellipse cx="616.4" cy="639.5" rx="9.2" ry="7" fill="#1f2a32" stroke="#1a252e" stroke-width="1.2" transform="rotate(32 616.4 639.5)"/>
<ellipse cx="621.3" cy="644.5" rx="4.5" ry="3" fill="#c9d4db" stroke="#1a252e" stroke-width="0.9" transform="rotate(32 621.3 644.5)"/>
<ellipse cx="659.5" cy="662" rx="8.3" ry="8.8" fill="#1f2a32" stroke="#1a252e" stroke-width="1.2" transform="rotate(-15 659.5 662)"/>
<ellipse cx="652.5" cy="664.5" rx="3" ry="5.5" fill="#c9d4db" stroke="#1a252e" stroke-width="0.9" transform="rotate(-15 652.5 664.5)"/>
<ellipse cx="570.7" cy="680.5" rx="8.6" ry="7.4" fill="#2a3640" stroke="#1a252e" stroke-width="1.2" transform="rotate(30 570.7 680.5)"/>
<ellipse cx="575" cy="685.5" rx="5.5" ry="3" fill="#c9d4db" stroke="#1a252e" stroke-width="0.9" transform="rotate(30 575 685.5)"/>
<path d="M688.4,567.4 Q690,562 697,562 L706,561 L712.6,559.4 L730.3,548.9 L743.2,552.9 L748,558.5 L743.2,565.8 L730.3,569 L719,572.3 L715.8,573.9 L711,571.5 L701.3,569.8 L693.2,571.5 Q688,571 688.4,567.4 Z" fill="#c3ced6" stroke="#1a252e" stroke-width="1.3" stroke-linejoin="round"/>
<path d="M717,563 Q722,559 729,561 Q730,566 724,567 Q718,567 717,563 Z" fill="#fcfefc" stroke="#1a252e" stroke-width="1.1" stroke-linejoin="round"/>
<path d="M709.4,573 L719,572 L720.6,586 L712,588.4 L710,584 Z" fill="#8fa3b1" stroke="#1a252e" stroke-width="1.2" stroke-linejoin="round"/>
<ellipse cx="693.5" cy="593.9" rx="5.1" ry="3.6" fill="#1a252e" stroke="#1a252e" stroke-width="0"/><ellipse cx="693.5" cy="591.3" rx="5.5" ry="3.9" fill="#c9d5dc" stroke="#1a252e" stroke-width="1.7"/><rect x="691.1" y="584" width="4.8" height="7" rx="1.92" fill="#c9d5dc" stroke="#1a252e" stroke-width="1.6"/><path d="M691.6,588 l3.8,-1.2" stroke="#1a252e" stroke-width="1.1"/>
<ellipse cx="737.5" cy="583.4" rx="5.1" ry="3.6" fill="#1a252e" stroke="#1a252e" stroke-width="0"/><ellipse cx="737.5" cy="580.8" rx="5.5" ry="3.9" fill="#c9d5dc" stroke="#1a252e" stroke-width="1.7"/><rect x="735.1" y="575" width="4.8" height="5.5" rx="1.92" fill="#c9d5dc" stroke="#1a252e" stroke-width="1.6"/><path d="M735.6,579 l3.8,-1.2" stroke="#1a252e" stroke-width="1.1"/>
<path d="M685.5,627.5 C686.4,627.1 689.1,625.8 691,625 C692.9,624.2 696.0,622.9 697,622.5" fill="none" stroke="#1a252e" stroke-width="7" stroke-linecap="round" stroke-linejoin="round"/><path d="M685.5,627.5 C686.4,627.1 689.1,625.8 691,625 C692.9,624.2 696.0,622.9 697,622.5" fill="none" stroke="#d3dde3" stroke-width="4.2" stroke-linecap="round" stroke-linejoin="round"/>
<path d="M694,615.4 Q697,611 700.4,611 L713,616.3 L722.2,621.8 L717.6,630 L702.2,629 Q693,627 693.1,621 Z" fill="#d2dce2" stroke="#1a252e" stroke-width="1.4" stroke-linejoin="round"/>
<path d="M705,613 L710,615 L708,630 L703,629 Z" fill="#2a3640" stroke="#1a252e" stroke-width="0.8" stroke-linejoin="round"/>
<path d="M722,626 C724.7,625.2 732.5,622.8 738,621.5 C743.5,620.2 752.2,618.6 755,618" fill="none" stroke="#1a252e" stroke-width="7.6" stroke-linecap="round" stroke-linejoin="round"/><path d="M722,626 C724.7,625.2 732.5,622.8 738,621.5 C743.5,620.2 752.2,618.6 755,618" fill="none" stroke="#d6dfe5" stroke-width="4.8" stroke-linecap="round" stroke-linejoin="round"/>
<path d="M713,623 L726,620.5 L735,628 L738.5,640 L730,648.5 L718,652.5 L710.5,645 Z" fill="#bccad3" stroke="#1a252e" stroke-width="1.4" stroke-linejoin="round"/>
<ellipse cx="732.3" cy="638" rx="5.8" ry="8.2" fill="#6f8b9e" stroke="#1a252e" stroke-width="1.4" transform="rotate(-22 732.3 638)"/>
<path d="M706,637 L716,633.5 L722,640 L724,650 L716,654.5 L707,652 Z" fill="#1f2a32" stroke="#1a252e" stroke-width="1.1" stroke-linejoin="round"/>
<path d="M692.5,644 C694.1,643.3 698.9,641.2 702,640 C705.1,638.8 709.5,637.1 711,636.5" fill="none" stroke="#1a252e" stroke-width="7.2" stroke-linecap="round" stroke-linejoin="round"/><path d="M692.5,644 C694.1,643.3 698.9,641.2 702,640 C705.1,638.8 709.5,637.1 711,636.5" fill="none" stroke="#d6dfe5" stroke-width="4.4" stroke-linecap="round" stroke-linejoin="round"/>
<ellipse cx="712" cy="695.9" rx="6.6" ry="3.6" fill="#1a252e" stroke="#1a252e" stroke-width="0"/><ellipse cx="712" cy="693.3" rx="7" ry="3.9" fill="#c9d5dc" stroke="#1a252e" stroke-width="1.7"/><rect x="709.4" y="678.5" width="5.2" height="14.5" rx="2.08" fill="#c9d5dc" stroke="#1a252e" stroke-width="1.6"/><path d="M709.9,682.5 l4.2,-1.2 M709.9,685.5 l4.2,-1.2 M709.9,688.5 l4.2,-1.2 M709.9,691.5 l4.2,-1.2" stroke="#1a252e" stroke-width="1.1"/>
<path d="M798,598 C799.9,596.8 805.3,592.2 809.3,590.5 C813.3,588.8 817.7,588.1 822,588 C826.3,587.9 831.5,588.3 835,590 C838.5,591.7 840.2,595.2 843,598 C845.8,600.8 849.2,604.3 852,607 C854.8,609.7 858.5,611.2 860,614 C861.5,616.8 862.0,621.3 861,624 C860.0,626.7 856.5,630.0 854,630.3 C851.5,630.6 847.5,628.4 846,626 C844.5,623.6 844.2,618.5 845,616 C845.8,613.5 848.8,610.5 851,611 C853.2,611.5 857.0,615.5 858,619 C859.0,622.5 856.7,628.7 857,632 C857.3,635.3 858.5,638.3 860,639 C861.5,639.7 865.0,636.5 866,636" fill="none" stroke="#1a252e" stroke-width="8.5" stroke-linecap="round" stroke-linejoin="round"/><path d="M798,598 C799.9,596.8 805.3,592.2 809.3,590.5 C813.3,588.8 817.7,588.1 822,588 C826.3,587.9 831.5,588.3 835,590 C838.5,591.7 840.2,595.2 843,598 C845.8,600.8 849.2,604.3 852,607 C854.8,609.7 858.5,611.2 860,614 C861.5,616.8 862.0,621.3 861,624 C860.0,626.7 856.5,630.0 854,630.3 C851.5,630.6 847.5,628.4 846,626 C844.5,623.6 844.2,618.5 845,616 C845.8,613.5 848.8,610.5 851,611 C853.2,611.5 857.0,615.5 858,619 C859.0,622.5 856.7,628.7 857,632 C857.3,635.3 858.5,638.3 860,639 C861.5,639.7 865.0,636.5 866,636" fill="none" stroke="#d1dbe1" stroke-width="5.7" stroke-linecap="round" stroke-linejoin="round"/>
<ellipse cx="789.5" cy="602.5" rx="8.5" ry="10" fill="#1f2a32" stroke="#1a252e" stroke-width="1.3" transform="rotate(-25 789.5 602.5)"/>
<ellipse cx="787.5" cy="603.5" rx="4.5" ry="6.5" fill="#aebfca" stroke="#1a252e" stroke-width="1" transform="rotate(-25 787.5 603.5)"/>
<path d="M797,595 L800,610 M801,593 L804,607" fill="none" stroke="#1a252e" stroke-width="1.2" stroke-linejoin="round"/>
<path d="M866,608 Q871,604 877,607 L878.5,613 L876,627 L870,630 L866,626 Z" fill="#c3cfd7" stroke="#1a252e" stroke-width="1.2" stroke-linejoin="round"/>
<ellipse cx="872" cy="609" rx="5" ry="3.8" fill="#2a3640" stroke="#1a252e" stroke-width="1"/>
<path d="M867,618 L877,617 M867,623 L876,622" fill="none" stroke="#1a252e" stroke-width="1" stroke-linejoin="round"/>
<ellipse cx="789.5" cy="740" rx="7.8" ry="8.2" fill="#1f2a32" stroke="#1a252e" stroke-width="1.2"/>
<path d="M793,733 L806,727 L817,729 L826,735 L827,747 L818,751 L806,750 L795,747 Z" fill="#aebfca" stroke="#1a252e" stroke-width="1.3" stroke-linejoin="round"/>
<path d="M804,736 L817,733 L818,750 L806,750 Z" fill="#2d3a44" stroke="#1a252e" stroke-width="1.1" stroke-linejoin="round"/>
<path d="M810,739 L815,738 L815,746 L810,747 Z" fill="#8ea3b1" stroke="#1a252e" stroke-width="0.6" stroke-linejoin="round"/>
<path d="M798,731 L808,727 L811,733 L802,736 Z" fill="#cbd6dd" stroke="#1a252e" stroke-width="0.9" stroke-linejoin="round"/>
<path d="M462.4,1009.8 L476.5,1009.8 L458.4,1152.5 L450.6,1110.2 Z" fill="#9fb3c0" stroke="#1a252e" stroke-width="1.3" stroke-linejoin="round"/>
<path d="M467.8,1011.4 L455.3,1151" fill="none" stroke="#1a252e" stroke-width="0.9" stroke-linejoin="round"/>
<path d="M469,1012 L475,1012 L461,1100 L456,1104 Z" fill="#c4d1d9" stroke="#1a252e" stroke-width="0" stroke-linejoin="round"/>
<path d="M463.1,987.8 L478.8,988.6 L478.8,997.3 L475.7,1009.8 L464.7,1009.8 L463.1,997.3 Z" fill="#8fa4b2" stroke="#1a252e" stroke-width="1.3" stroke-linejoin="round"/>
<path d="M463.1,987.8 L478.8,988.6 L478.8,997.3 L463.1,997.3 Z" fill="#cfd9e0" stroke="#1a252e" stroke-width="1.1" stroke-linejoin="round"/>
<ellipse cx="470.8" cy="992.5" rx="4" ry="2.6" fill="#42525e" stroke="#1a252e" stroke-width="0.8"/>
<path d="M438,1111.8 L453.7,1110.2 L454.5,1118 L458.4,1152.5 L441.2,1152.5 L439.6,1121.2 Z" fill="#8fa4b2" stroke="#1a252e" stroke-width="1.3" stroke-linejoin="round"/>
<path d="M438,1111.8 L453.7,1110.2 L454.5,1118 L439.6,1121.2 Z" fill="#cdd8df" stroke="#1a252e" stroke-width="1.1" stroke-linejoin="round"/>
<ellipse cx="446.5" cy="1115.5" rx="3.8" ry="2.4" fill="#42525e" stroke="#1a252e" stroke-width="0.8"/>
<path d="M447,1122 L448,1152 M443,1123 L444,1152" fill="none" stroke="#55697a" stroke-width="0.7" stroke-linejoin="round"/>
<path d="M520,1070.5 L567,1046.7 L579.5,1053.3 L521.5,1080.7 Z" fill="#c9d5dd" stroke="#1a252e" stroke-width="1.3" stroke-linejoin="round"/>
<path d="M521,1078 L576,1051.5 L579.5,1053.3 L521.5,1080.7 Z" fill="#3f505c" stroke="#1a252e" stroke-width="0" stroke-linejoin="round"/>
<path d="M500,1077 L507,1072 L517,1072.5 L520,1079 L513,1084 L502,1082.5 Z" fill="#7f95a4" stroke="#1a252e" stroke-width="1.3" stroke-linejoin="round"/>
<ellipse cx="509" cy="1076.8" rx="3.6" ry="2.4" fill="#c9d5dd" stroke="#1a252e" stroke-width="0.9"/>
<path d="M541,1160 C541.8,1162.5 544.5,1169.8 546,1175 C547.5,1180.2 547.9,1186.1 550.3,1191.4 C552.7,1196.7 554.9,1203.1 560.6,1206.8 C566.3,1210.5 565.2,1212.8 584.6,1213.7 C604.0,1214.6 650.2,1213.2 677,1212 C703.8,1210.8 729.6,1209.1 745.6,1206.8 C761.6,1204.5 766.1,1201.4 773,1198.3 C779.9,1195.2 782.7,1191.4 786.7,1188 C790.7,1184.6 795.3,1179.7 797,1178" fill="none" stroke="#1a252e" stroke-width="8" stroke-linecap="round" stroke-linejoin="round"/><path d="M541,1160 C541.8,1162.5 544.5,1169.8 546,1175 C547.5,1180.2 547.9,1186.1 550.3,1191.4 C552.7,1196.7 554.9,1203.1 560.6,1206.8 C566.3,1210.5 565.2,1212.8 584.6,1213.7 C604.0,1214.6 650.2,1213.2 677,1212 C703.8,1210.8 729.6,1209.1 745.6,1206.8 C761.6,1204.5 766.1,1201.4 773,1198.3 C779.9,1195.2 782.7,1191.4 786.7,1188 C790.7,1184.6 795.3,1179.7 797,1178" fill="none" stroke="#a9bbc7" stroke-width="5.2" stroke-linecap="round" stroke-linejoin="round"/>
<path d="M544,1170 C544.8,1173.0 546.5,1182.5 549,1188 C551.5,1193.5 553.2,1199.3 559,1203 C564.8,1206.7 564.3,1209.0 584,1210 C603.7,1211.0 650.2,1210.0 677,1209 C703.8,1208.0 729.2,1206.3 745,1204 C760.8,1201.7 767.5,1196.5 772,1195" fill="none" stroke="#dfe7ec" stroke-width="1.8" stroke-linecap="round" stroke-linejoin="round"/>
<path d="M522,1156 L530,1153 L540,1153.5 L543.5,1160 L538,1165 L524,1164.6 Z" fill="#7f95a4" stroke="#1a252e" stroke-width="1.3" stroke-linejoin="round"/>
<ellipse cx="531" cy="1158" rx="3.6" ry="2.4" fill="#c9d5dd" stroke="#1a252e" stroke-width="0.9"/>
<path d="M791,1176 L801,1172.6 L813,1173 L816,1180 L811,1186 L797,1186 Z" fill="#7f95a4" stroke="#1a252e" stroke-width="1.3" stroke-linejoin="round"/>
<ellipse cx="804" cy="1178.5" rx="3.6" ry="2.4" fill="#c9d5dd" stroke="#1a252e" stroke-width="0.9"/>
<ellipse cx="433.5" cy="1047" rx="6.6" ry="3.6" fill="#1a252e" stroke="#1a252e" stroke-width="0"/><ellipse cx="433.5" cy="1044.4" rx="7" ry="3.9" fill="#c9d5dc" stroke="#1a252e" stroke-width="1.7"/><rect x="430.3" y="1030" width="6.4" height="14.1" rx="2.56" fill="#c9d5dc" stroke="#1a252e" stroke-width="1.6"/><path d="M430.8,1034 l5.4,-1.2 M430.8,1037 l5.4,-1.2 M430.8,1040 l5.4,-1.2" stroke="#1a252e" stroke-width="1.1"/>
<ellipse cx="446.2" cy="1191.4" rx="6.6" ry="3.6" fill="#1a252e" stroke="#1a252e" stroke-width="0"/><ellipse cx="446.2" cy="1188.8" rx="7" ry="3.9" fill="#c9d5dc" stroke="#1a252e" stroke-width="1.7"/><rect x="443" y="1174.5" width="6.4" height="14" rx="2.56" fill="#c9d5dc" stroke="#1a252e" stroke-width="1.6"/><path d="M443.5,1178.5 l5.4,-1.2 M443.5,1181.5 l5.4,-1.2 M443.5,1184.5 l5.4,-1.2" stroke="#1a252e" stroke-width="1.1"/>
<ellipse cx="509.8" cy="1128.1" rx="6.6" ry="3.6" fill="#1a252e" stroke="#1a252e" stroke-width="0"/><ellipse cx="509.8" cy="1125.5" rx="7" ry="3.9" fill="#c9d5dc" stroke="#1a252e" stroke-width="1.7"/><rect x="506.6" y="1109.7" width="6.4" height="15.5" rx="2.56" fill="#c9d5dc" stroke="#1a252e" stroke-width="1.6"/><path d="M507.1,1113.7 l5.4,-1.2 M507.1,1116.7 l5.4,-1.2 M507.1,1119.7 l5.4,-1.2 M507.1,1122.7 l5.4,-1.2" stroke="#1a252e" stroke-width="1.1"/>
<ellipse cx="531.3" cy="1202.4" rx="6.6" ry="3.6" fill="#1a252e" stroke="#1a252e" stroke-width="0"/><ellipse cx="531.3" cy="1199.8" rx="7" ry="3.9" fill="#c9d5dc" stroke="#1a252e" stroke-width="1.7"/><rect x="528.1" y="1185.8" width="6.4" height="13.7" rx="2.56" fill="#c9d5dc" stroke="#1a252e" stroke-width="1.6"/><path d="M528.6,1189.8 l5.4,-1.2 M528.6,1192.8 l5.4,-1.2 M528.6,1195.8 l5.4,-1.2" stroke="#1a252e" stroke-width="1.1"/>
<ellipse cx="804.7" cy="1222.1" rx="6.6" ry="3.6" fill="#1a252e" stroke="#1a252e" stroke-width="0"/><ellipse cx="804.7" cy="1219.5" rx="7" ry="3.9" fill="#c9d5dc" stroke="#1a252e" stroke-width="1.7"/><rect x="801.5" y="1205" width="6.4" height="14.2" rx="2.56" fill="#c9d5dc" stroke="#1a252e" stroke-width="1.6"/><path d="M802,1209 l5.4,-1.2 M802,1212 l5.4,-1.2 M802,1215 l5.4,-1.2" stroke="#1a252e" stroke-width="1.1"/>
</g>
<g id="labels">
<path d="M561.9,233.6 h2.6 v16.2 h-2.6 Z" fill="#12181c"/><path d="M562.7,234.4 L559.5,238.9" stroke="#12181c" stroke-width="2.4" stroke-linecap="butt"/>
<text class="lb" transform="translate(568.4,249.8) scale(0.93,1)">8</text>
<path d="M284.0,294.6 h2.6 v16.2 h-2.6 Z" fill="#12181c"/><path d="M284.8,295.4 L281.6,299.9" stroke="#12181c" stroke-width="2.4" stroke-linecap="butt"/>
<text class="lb" transform="translate(375.9,361.8) scale(0.93,1)">2</text>
<text class="lb" transform="translate(253.2,422.2) scale(0.93,1)">4</text>
<text class="lb" transform="translate(446.7,366.2) scale(0.93,1)">7</text>
<text class="lb" transform="translate(596.5,417.0) scale(0.93,1)">8</text>
<text class="lb" transform="translate(129.2,514.0) scale(0.93,1)">4</text>
<text class="lb" transform="translate(253.9,506.0) scale(0.93,1)">3</text>
<text class="lb" transform="translate(214.5,622.2) scale(0.93,1)">4</text>
<text class="lb" transform="translate(585.3,583.5) scale(0.93,1)">6</text>
<path d="M651.0,554.6 h2.6 v16.2 h-2.6 Z" fill="#12181c"/><path d="M651.8,555.4 L648.6,559.9" stroke="#12181c" stroke-width="2.4" stroke-linecap="butt"/>
<text class="lb" transform="translate(657.5,570.8) scale(0.93,1)">4</text>
<path d="M651.0,578.0 h2.6 v16.2 h-2.6 Z" fill="#12181c"/><path d="M651.8,578.8 L648.6,583.3" stroke="#12181c" stroke-width="2.4" stroke-linecap="butt"/>
<text class="lb" transform="translate(657.5,594.2) scale(0.93,1)">5</text>
<path d="M768.0,565.0 h2.6 v16.2 h-2.6 Z" fill="#12181c"/><path d="M768.8,565.8 L765.6,570.3" stroke="#12181c" stroke-width="2.4" stroke-linecap="butt"/>
<text class="lb" transform="translate(774.5,581.2) scale(0.93,1)">5</text>
<path d="M648.6,613.5 h2.6 v16.2 h-2.6 Z" fill="#12181c"/><path d="M649.4,614.3 L646.2,618.8" stroke="#12181c" stroke-width="2.4" stroke-linecap="butt"/>
<text class="lb" transform="translate(655.1,629.7) scale(0.93,1)">2</text>
<path d="M747.7,681.8 h2.6 v16.2 h-2.6 Z" fill="#12181c"/><path d="M748.5,682.6 L745.3,687.1" stroke="#12181c" stroke-width="2.4" stroke-linecap="butt"/>
<text class="lb" transform="translate(754.2,698.0) scale(0.93,1)">3</text>
<path d="M853.0,659.6 h2.6 v16.2 h-2.6 Z" fill="#12181c"/><path d="M853.8,660.4 L850.6,664.9" stroke="#12181c" stroke-width="2.4" stroke-linecap="butt"/>
<text class="lb" transform="translate(859.5,675.8) scale(0.93,1)">6</text>
<path d="M855.0,729.0 h2.6 v16.2 h-2.6 Z" fill="#12181c"/><path d="M855.8,729.8 L852.6,734.3" stroke="#12181c" stroke-width="2.4" stroke-linecap="butt"/>
<text class="lb" transform="translate(861.5,745.2) scale(0.93,1)">7</text>
<text class="lb" transform="translate(236.8,860.5) scale(0.93,1)">5</text>
<text class="lb" transform="translate(262.7,803.5) scale(0.93,1)">6</text>
<text class="lb" transform="translate(262.7,823.5) scale(0.93,1)">7</text>
<text class="lb" transform="translate(262.9,844.7) scale(0.93,1)">8</text>
<text class="lb" transform="translate(262.8,878.1) scale(0.93,1)">9</text>
<path d="M265.0,883.7 h2.6 v16.2 h-2.6 Z" fill="#12181c"/><path d="M265.8,884.5 L262.6,889.0" stroke="#12181c" stroke-width="2.4" stroke-linecap="butt"/>
<text class="lb" transform="translate(271.5,899.9) scale(0.93,1)">0</text>
<path d="M265.0,905.0 h2.6 v16.2 h-2.6 Z" fill="#12181c"/><path d="M265.8,905.8 L262.6,910.3" stroke="#12181c" stroke-width="2.4" stroke-linecap="butt"/>
<text class="lb" transform="translate(271.5,921.2) scale(0.93,1)">7</text>
<path d="M390.9,1031.6 h2.6 v16.2 h-2.6 Z" fill="#12181c"/><path d="M391.7,1032.4 L388.5,1036.9" stroke="#12181c" stroke-width="2.4" stroke-linecap="butt"/>
<path d="M402.8,1031.6 h2.6 v16.2 h-2.6 Z" fill="#12181c"/><path d="M403.6,1032.4 L400.4,1036.9" stroke="#12181c" stroke-width="2.4" stroke-linecap="butt"/>
<path d="M530.0,1017.0 h2.6 v16.2 h-2.6 Z" fill="#12181c"/><path d="M530.8,1017.8 L527.6,1022.3" stroke="#12181c" stroke-width="2.4" stroke-linecap="butt"/>
<text class="lb" transform="translate(536.5,1033.2) scale(0.93,1)">0</text>
<text class="lb" transform="translate(408.8,1115.9) scale(0.93,1)">9</text>
<path d="M545.0,1109.4 h2.6 v16.2 h-2.6 Z" fill="#12181c"/><path d="M545.8,1110.2 L542.6,1114.7" stroke="#12181c" stroke-width="2.4" stroke-linecap="butt"/>
<path d="M556.9,1109.4 h2.6 v16.2 h-2.6 Z" fill="#12181c"/><path d="M557.7,1110.2 L554.5,1114.7" stroke="#12181c" stroke-width="2.4" stroke-linecap="butt"/>
<path d="M403.4,1175.0 h2.6 v16.2 h-2.6 Z" fill="#12181c"/><path d="M404.2,1175.8 L401.0,1180.3" stroke="#12181c" stroke-width="2.4" stroke-linecap="butt"/>
<path d="M415.3,1175.0 h2.6 v16.2 h-2.6 Z" fill="#12181c"/><path d="M416.1,1175.8 L412.9,1180.3" stroke="#12181c" stroke-width="2.4" stroke-linecap="butt"/>
<text class="lb" transform="translate(491.5,1157.7) scale(0.93,1)">9</text>
<path d="M488.5,1187.8 h2.6 v16.2 h-2.6 Z" fill="#12181c"/><path d="M489.3,1188.6 L486.1,1193.1" stroke="#12181c" stroke-width="2.4" stroke-linecap="butt"/>
<path d="M500.4,1187.8 h2.6 v16.2 h-2.6 Z" fill="#12181c"/><path d="M501.2,1188.6 L498.0,1193.1" stroke="#12181c" stroke-width="2.4" stroke-linecap="butt"/>
<path d="M839.4,1208.0 h2.6 v16.2 h-2.6 Z" fill="#12181c"/><path d="M840.2,1208.8 L837.0,1213.3" stroke="#12181c" stroke-width="2.4" stroke-linecap="butt"/>
<path d="M851.3,1208.0 h2.6 v16.2 h-2.6 Z" fill="#12181c"/><path d="M852.1,1208.8 L848.9,1213.3" stroke="#12181c" stroke-width="2.4" stroke-linecap="butt"/>
<line class="ln" x1="538" y1="241.6" x2="558" y2="241.6"/>
<line class="ln" x1="294" y1="303.9" x2="311" y2="303.9"/>
<line class="ln" x1="354.5" y1="355" x2="375.5" y2="355"/>
<line class="ln" x1="268" y1="414.7" x2="286.8" y2="414.7"/>
<line class="ln" x1="452.3" y1="370.2" x2="452.3" y2="392.6"/>
<line class="ln" x1="567" y1="292" x2="582.6" y2="292"/>
<line class="ln" x1="556" y1="338" x2="582" y2="338"/>
<line class="ln" x1="545.5" y1="394" x2="581.8" y2="394"/>
<line class="ln" x1="492.6" y1="539.4" x2="583" y2="539.4"/>
<line class="ln" x1="145" y1="505.5" x2="163.5" y2="505.5"/>
<line class="ln" x1="231.3" y1="499.7" x2="251.5" y2="499.7"/>
<line class="ln" x1="220.8" y1="583" x2="220.8" y2="604.2"/>
<line class="ln" x1="564.2" y1="577" x2="583" y2="577"/>
<line class="ln" x1="676.3" y1="564.2" x2="693.2" y2="564.2"/>
<line class="ln" x1="676.3" y1="588" x2="692.4" y2="588"/>
<line class="ln" x1="744.8" y1="574.7" x2="764.2" y2="574.7"/>
<line class="ln" x1="673" y1="623" x2="686.8" y2="623"/>
<line class="ln" x1="723.5" y1="690.4" x2="743.5" y2="690.4"/>
<line class="ln" x1="863.3" y1="639.5" x2="863.3" y2="659"/>
<line class="ln" x1="831.4" y1="738.1" x2="852" y2="738.1"/>
<line class="ln" x1="263.2" y1="856" x2="296.5" y2="856"/>
<line class="ln" x1="412" y1="1039.6" x2="429.4" y2="1039.6"/>
<line class="ln" x1="540" y1="1036.8" x2="540" y2="1060.4"/>
<line class="ln" x1="424.7" y1="1109.4" x2="447.5" y2="1109.4"/>
<line class="ln" x1="520.8" y1="1118.8" x2="541" y2="1118.8"/>
<line class="ln" x1="425.5" y1="1184.7" x2="442.7" y2="1184.7"/>
<line class="ln" x1="505.9" y1="1152" x2="527" y2="1152"/>
<line class="ln" x1="509.8" y1="1196" x2="527.8" y2="1196"/>
<line class="ln" x1="815.9" y1="1215.4" x2="835.4" y2="1215.4"/>
<polyline class="ln" points="577.4,263.7 587,272.6 587,404 593.4,410.3 587,416.8 587,547.4 577,557"/>
<polyline class="ln" points="266.2,775.5 256.8,784.5 256.8,849.4 251,854.8 256.8,860.3 256.8,924.5 266.2,934.2"/>
</g>
<g id="wm" style="mix-blend-mode:multiply">
<text transform="scale(0.94,1)" x="75.2 161 248 337.7 429.8 514.9 575.1" y="728" font-family="Liberation Sans" font-weight="bold" font-size="152" fill="#fbe6e6">scuderi</text>
<text transform="translate(583.5,0) scale(0.83,1)" x="0" y="728" font-family="Liberation Sans" font-weight="bold" font-size="152" fill="#fbe6e6">a</text>
<text font-family="Liberation Sans" font-weight="bold" font-size="46" fill="#ebebeb" y="786"><tspan x="74">c</tspan><tspan x="148">a</tspan><tspan x="220">r</tspan><tspan x="348">p</tspan><tspan x="424">a</tspan><tspan x="497" fill="#f3f3f3">r</tspan><tspan x="570" fill="#f3f3f3">t</tspan><tspan x="637" fill="#f3f3f3">s</tspan></text>
</g>
</svg>
</body></html>
